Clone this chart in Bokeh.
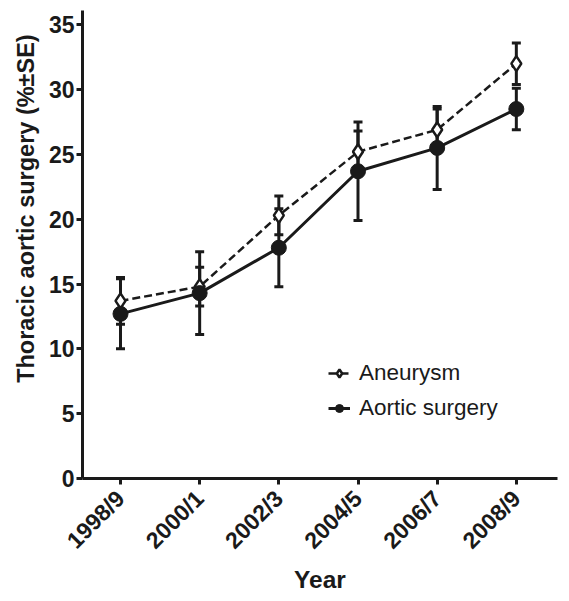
import math
from bokeh.plotting import figure
from bokeh.models import (ColumnDataSource, Whisker, TeeHead, FixedTicker, Range1d,
                          Legend, LegendItem, Title)
from bokeh.embed import file_html
from bokeh.resources import INLINE

years = ["1998/9", "2000/1", "2002/3", "2004/5", "2006/7", "2008/9"]
aneurysm = [13.7, 14.8, 20.3, 25.2, 26.9, 32.0]
aneurysm_se = [1.8, 1.5, 1.5, 1.6, 1.6, 1.6]
aortic = [12.7, 14.3, 17.8, 23.7, 25.5, 28.5]
aortic_se = [2.7, 3.2, 3.0, 3.8, 3.2, 1.6]
y_ticks = [0, 5, 10, 15, 20, 25, 30, 35]
y_title = "Thoracic aortic surgery (%±SE)"

xs = list(range(len(years)))
src_a = ColumnDataSource(dict(x=xs, y=aneurysm,
                              lo=[v - e for v, e in zip(aneurysm, aneurysm_se)],
                              hi=[v + e for v, e in zip(aneurysm, aneurysm_se)]))
src_s = ColumnDataSource(dict(x=xs, y=aortic,
                              lo=[v - e for v, e in zip(aortic, aortic_se)],
                              hi=[v + e for v, e in zip(aortic, aortic_se)]))

FONT = "Liberation Sans"
C = "#1a1a1a"

p = figure(width=565, height=595, output_backend="svg", toolbar_location=None,
           x_range=Range1d(-0.48, 5.52), y_range=Range1d(0, 36.1),
           min_border_left=82, min_border_right=8, min_border_top=10, min_border_bottom=115)
p.outline_line_color = None
p.grid.visible = False
p.background_fill_color = "white"

for src in (src_s, src_a):
    w = Whisker(base="x", upper="hi", lower="lo", source=src, dimension="height",
                line_width=3, line_color=C,
                upper_head=TeeHead(size=9, line_width=3, line_color=C),
                lower_head=TeeHead(size=9, line_width=3, line_color=C))
    p.add_layout(w)

l_s = p.line("x", "y", source=src_s, line_width=3, line_color=C)
l_a = p.line("x", "y", source=src_a, line_width=2.5, line_color=C, line_dash="8 4")
m_a = p.scatter("x", "y", source=src_a, marker="diamond", size=15, fill_color="white",
                line_color=C, line_width=2.5)
m_s = p.scatter("x", "y", source=src_s, marker="circle", size=15, fill_color=C,
                line_color=C, line_width=1)

legend = Legend(items=[LegendItem(label="Aneurysm", renderers=[l_a, m_a]),
                       LegendItem(label="Aortic surgery", renderers=[l_s, m_s])],
                location=(246, 57), orientation="vertical")
legend.border_line_color = None
legend.background_fill_alpha = 0
legend.label_text_font = FONT
legend.label_text_font_size = "22.5px"
legend.label_text_color = C
legend.glyph_width = 22
legend.glyph_height = 20
legend.label_height = 20
legend.spacing = 9
legend.padding = 0
legend.margin = 0
legend.label_standoff = 9
p.add_layout(legend)

p.xaxis.ticker = FixedTicker(ticks=xs)
p.xaxis.major_label_overrides = {i: s for i, s in enumerate(years)}
p.xaxis.major_label_orientation = math.pi / 4
p.yaxis.ticker = FixedTicker(ticks=y_ticks)

for ax in (p.xaxis, p.yaxis):
    ax.axis_line_width = 3
    ax.axis_line_color = C
    ax.major_tick_line_width = 3
    ax.major_tick_line_color = C
    ax.major_tick_out = 6
    ax.major_tick_in = 0
    ax.minor_tick_line_color = None
    ax.major_label_text_font = FONT
    ax.major_label_text_font_style = "bold"
    ax.major_label_text_font_size = "23px"
    ax.major_label_text_color = C
    ax.axis_label_text_font = FONT
    ax.axis_label_text_font_style = "bold"
    ax.axis_label_text_color = C

p.xaxis.axis_label = "Year"
p.xaxis.axis_label_text_font_size = "24.5px"
p.xaxis.axis_label_standoff = 0
p.yaxis.major_label_standoff = 2
p.xaxis.major_label_standoff = 10

# leading no-break spaces lift the centred title to where the reference has it
ytitle = Title(text="\u00a0" * 11 + y_title, align="center",
               text_font=FONT, text_font_style="bold", text_font_size="23.5px",
               text_color=C, standoff=14)
p.add_layout(ytitle, "left")

open("out.html", "w").write(file_html(p, INLINE))
